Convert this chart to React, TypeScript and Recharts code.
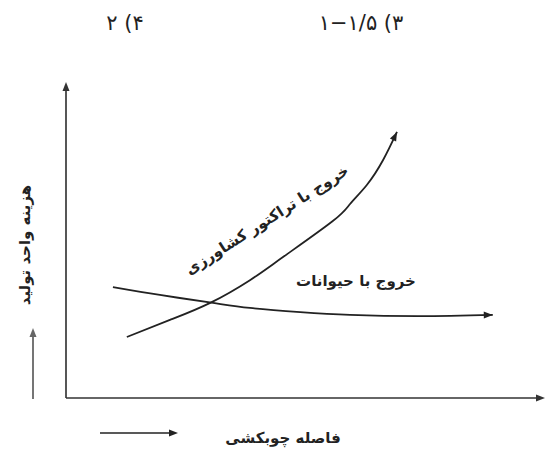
import React from "react"
import { LineChart, Line, XAxis, YAxis, ReferenceDot, ReferenceLine } from "recharts"

// chart frame
const W = 546
const H = 450
const M = { top: 82, right: 1, bottom: 52, left: 66 }
const PLOT_W = W - M.left - M.right
const PLOT_H = H - M.top - M.bottom
const X_MAX = 10
const Y_MAX = 10

// curves (arbitrary units 0..10)
const tractorX = [1.27, 2.17, 3.01, 3.84, 4.53, 5.57, 5.93, 6.28, 6.62, 6.91]
const tractorY = [1.93, 2.47, 3.01, 3.73, 4.46, 5.6, 6.14, 6.74, 7.53, 8.42]
const animalX = [0.98, 1.96, 3.07, 3.84, 4.89, 5.93, 7.39, 8.91]
const animalY = [3.51, 3.26, 3.01, 2.85, 2.72, 2.63, 2.59, 2.63]

const titleOptions = ["۴) ۲", "۳) ۱−۱/۵"]
const tractorLabel = "خروج با تراکتور کشاورزی"
const animalLabel = "خروج با حیوانات"
const xLabel = "فاصله چوبکشی"
const yLabel = "هزینه واحد تولید"

const toRows = (xs: number[], ys: number[]) => xs.map((x, i) => ({ x, y: ys[i] }))
const tractor = toRows(tractorX, tractorY)
const animal = toRows(animalX, animalY)

const INK = "#222"
const FONT = "'DejaVu Sans', sans-serif"

// arrowhead on the last point of a curve, pointing along the final segment
function arrowDot(xs: number[], ys: number[]) {
  const n = xs.length - 1
  const dx = ((xs[n] - xs[n - 1]) * PLOT_W) / X_MAX
  const dy = (-(ys[n] - ys[n - 1]) * PLOT_H) / Y_MAX
  const angle = (Math.atan2(dy, dx) * 180) / Math.PI
  return (props: any) => {
    const { cx, cy, index } = props
    if (index !== n) return <g key={index} />
    return (
      <path
        key={index}
        d="M0,0 L-9,-3.5 L-9,3.5 Z"
        transform={`translate(${cx},${cy}) rotate(${angle})`}
        fill={INK}
      />
    )
  }
}

const axisArrow = (angle: number) => (props: any) => (
  <path
    d="M0,0 L-9,-3.5 L-9,3.5 Z"
    transform={`translate(${props.cx},${props.cy}) rotate(${angle})`}
    fill="#333"
  />
)

export default function App() {
  return (
    <div style={{ position: "fixed", left: 0, top: 0, width: W, height: H, background: "#fff" }}>
      <LineChart width={W} height={H} margin={M}>
        <XAxis type="number" dataKey="x" domain={[0, X_MAX]} hide allowDataOverflow />
        <YAxis type="number" dataKey="y" domain={[0, Y_MAX]} hide allowDataOverflow />
        <ReferenceLine
          segment={[{ x: 0, y: 0 }, { x: 0, y: Y_MAX - 0.2 }]}
          stroke="#444"
          strokeWidth={1.8}
          ifOverflow="visible"
        />
        <ReferenceLine
          segment={[{ x: 0, y: 0 }, { x: X_MAX - 0.1, y: 0 }]}
          stroke="#333"
          strokeWidth={1.6}
          ifOverflow="visible"
        />
        <ReferenceDot x={0} y={Y_MAX} r={0} ifOverflow="visible" shape={axisArrow(-90)} />
        <ReferenceDot x={X_MAX} y={0} r={0} ifOverflow="visible" shape={axisArrow(0)} />
        <Line
          data={tractor}
          dataKey="y"
          type="natural"
          stroke={INK}
          strokeWidth={1.8}
          dot={arrowDot(tractorX, tractorY)}
          activeDot={false}
          isAnimationActive={false}
        />
        <Line
          data={animal}
          dataKey="y"
          type="natural"
          stroke={INK}
          strokeWidth={1.8}
          dot={arrowDot(animalX, animalY)}
          activeDot={false}
          isAnimationActive={false}
        />
      </LineChart>
      <svg
        width={W}
        height={H}
        style={{ position: "absolute", left: 0, top: 0, pointerEvents: "none" }}
        fontFamily={FONT}
        fill={INK}
      >
        <text x={125} y={23} fontSize={21} textAnchor="middle" dominantBaseline="central" direction="rtl">
          {titleOptions[0]}
        </text>
        <text x={361} y={23} fontSize={21} textAnchor="middle" dominantBaseline="central" direction="rtl">
          {titleOptions[1]}
        </text>
        <text
          x={267}
          y={220}
          fontSize={15}
          fontWeight="bold"
          textAnchor="middle"
          dominantBaseline="central"
          transform="rotate(-32.4 267 220)"
        >
          {tractorLabel}
        </text>
        <text x={356} y={281} fontSize={15} fontWeight="bold" textAnchor="middle" dominantBaseline="central">
          {animalLabel}
        </text>
        <text x={283} y={438} fontSize={15} fontWeight="bold" textAnchor="middle" dominantBaseline="central">
          {xLabel}
        </text>
        <text
          x={25}
          y={245}
          fontSize={15}
          fontWeight="bold"
          textAnchor="middle"
          dominantBaseline="central"
          transform="rotate(-90 25 245)"
        >
          {yLabel}
        </text>
        {/* direction arrows beside the axis titles */}
        <line x1={33} y1={399} x2={33} y2={335} stroke="#666" strokeWidth={1.8} />
        <path d="M33,328 L29.5,337 L36.5,337 Z" fill="#666" />
        <line x1={100} y1={433} x2={171} y2={433} stroke={INK} strokeWidth={1.6} />
        <path d="M178,433 L169,429.5 L169,436.5 Z" fill={INK} />
      </svg>
    </div>
  )
}
